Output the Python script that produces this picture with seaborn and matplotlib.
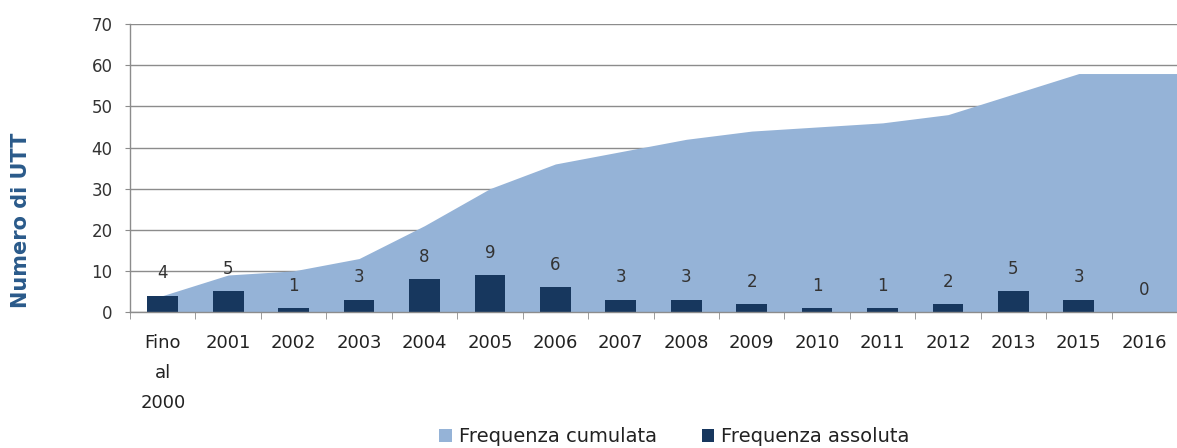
import numpy as np
import pandas as pd
import matplotlib
matplotlib.use("Agg")
import matplotlib.pyplot as plt
import seaborn as sns
from matplotlib.patches import Patch
from matplotlib.ticker import FixedLocator

categories = ["Fino\nal\n2000", "2001", "2002", "2003", "2004", "2005", "2006", "2007",
              "2008", "2009", "2010", "2011", "2012", "2013", "2015", "2016"]
freq_assoluta = [4, 5, 1, 3, 8, 9, 6, 3, 3, 2, 1, 1, 2, 5, 3, 0]
freq_cumulata = [4, 9, 10, 13, 21, 30, 36, 39, 42, 44, 45, 46, 48, 53, 58, 58]
y_ticks = [0, 10, 20, 30, 40, 50, 60, 70]

AREA_C = "#95B3D7"
BAR_C = "#17375E"
GRID_C = "#8C8C8C"
TEXT_C = "#333333"

sns.set_style("white")
plt.rcParams["font.family"] = ["DejaVu Sans"]

fig = plt.figure(figsize=(11.77, 4.48), dpi=100)
ax = fig.add_axes([0.1105, 0.3036, 0.8895, 0.6424])

df = pd.DataFrame({"cat": categories, "abs": freq_assoluta, "cum": freq_cumulata})
n = len(categories)
xs = np.arange(n)
right = n - 0.5

# cumulative area (extends flat to the right edge)
ax.fill_between(np.r_[xs, right], np.r_[df["cum"].values, df["cum"].values[-1]], 0,
                color=AREA_C, linewidth=0, zorder=1)

sns.barplot(data=df, x="cat", y="abs", color=BAR_C, saturation=1, width=0.47,
            order=categories, ax=ax, zorder=2, linewidth=0, edgecolor="none")

for i, v in enumerate(freq_assoluta):
    ax.annotate(str(v), (i, v), xytext=(0, 16), textcoords="offset points",
                ha="center", va="center", fontsize=12, color=TEXT_C, zorder=3)

ax.set_xlim(-0.5, right)
ax.set_ylim(0, 70)
ax.set_yticks(y_ticks)
ax.yaxis.grid(True, color=GRID_C, linewidth=1.0, zorder=0)
ax.set_axisbelow(True)

for s in ["top", "right"]:
    ax.spines[s].set_visible(False)
for s in ["left", "bottom"]:
    ax.spines[s].set_color(GRID_C)
    ax.spines[s].set_linewidth(1.0)

ax.tick_params(axis="y", length=3.5, color=GRID_C, labelsize=12, labelcolor=TEXT_C, pad=9, direction="out", left=True)
ax.xaxis.set_minor_locator(FixedLocator(np.arange(-0.5, n, 1.0)))
ax.tick_params(axis="x", which="major", length=0, labelsize=13, labelcolor="#222222", pad=16)
ax.tick_params(axis="x", which="minor", length=5, color=GRID_C, direction="out", bottom=True)
for lbl in ax.get_xticklabels():
    lbl.set_linespacing(1.85)
    lbl.set_verticalalignment("top")

ax.set_xlabel("")
ax.set_ylabel("Numero di UTT", fontsize=15, fontweight="bold", color="#2A5A8A")
ax.yaxis.set_label_coords(-0.0945, 0.32)

handles = [Patch(facecolor=AREA_C, edgecolor="none"), Patch(facecolor=BAR_C, edgecolor="none")]
fig.legend(handles, ["Frequenza cumulata", "Frequenza assoluta"], loc="center",
           bbox_to_anchor=(0.573, 0.025), ncol=2, frameon=False, fontsize=14,
           handlelength=0.65, handleheight=0.65, handletextpad=0.35, columnspacing=2.3,
           labelcolor="#222222")

fig.savefig("out.png", dpi=100)
